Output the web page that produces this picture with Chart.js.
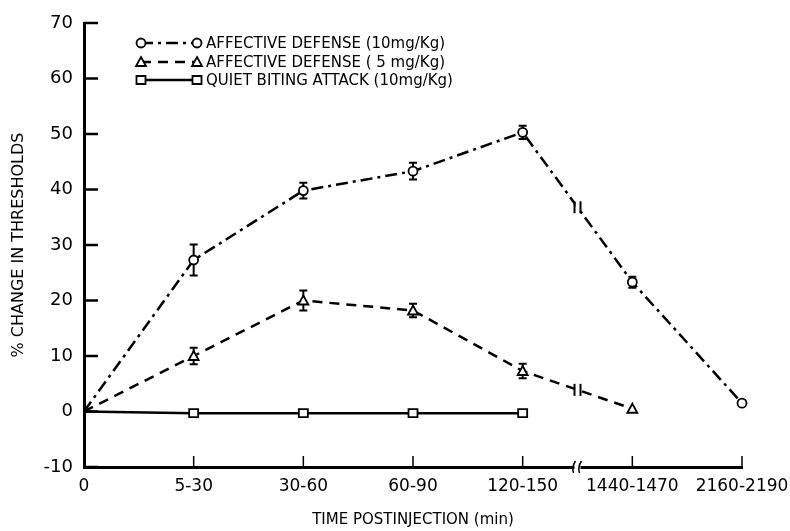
<!DOCTYPE html>
<html lang="en">

<head>
    <meta charset="UTF-8">
    <title>Change in thresholds</title>
    <script src="https://cdn.jsdelivr.net/npm/chart.js"></script>
    <style>
        * {
            margin: 0;
            padding: 0;
            box-sizing: border-box;
        }

        body {
            background-color: #ffffff;
            width: 790px;
            height: 531px;
            overflow: hidden;
        }

        #wrap {
            position: relative;
            width: 790px;
            height: 531px;
        }
    </style>
</head>

<body>
    <div id="wrap"><canvas id="thresholdChart"></canvas></div>

    <script>
        // categories on the x axis (break between 120-150 and 1440-1470)
        const categories = ['0', '5-30', '30-60', '60-90', '120-150', '1440-1470', '2160-2190'];

        // % change in thresholds
        const defense10 = [0, 27.3, 39.8, 43.3, 50.3, 23.3, 1.5];
        const defense10Err = [0, 2.8, 1.4, 1.5, 1.2, 1.0, 0];
        const defense5 = [0, 10.0, 20.0, 18.2, 7.3, 0.5, null];
        const defense5Err = [0, 1.5, 1.8, 1.2, 1.3, 0, null];
        const quietBiting = [0, -0.3, -0.3, -0.3, -0.3, null, null];

        const yTickValues = [-10, 0, 10, 20, 30, 40, 50, 60, 70];
        const breakAt = 4.5; // position of the axis break, between categories

        const labelFont = 'DejaVu Sans';

        // error bars, drawn under the markers
        const errorBars = {
            id: 'errorBars',
            beforeDatasetsDraw(chart) {
                const ctx = chart.ctx;
                const x = chart.scales.x, y = chart.scales.y;
                ctx.save();
                ctx.strokeStyle = '#000';
                ctx.lineWidth = 2;
                chart.data.datasets.forEach(ds => {
                    if (!ds.errors) return;
                    ds.data.forEach((v, i) => {
                        const e = ds.errors[i];
                        if (v === null || !e) return;
                        const px = x.getPixelForValue(i);
                        const top = y.getPixelForValue(v + e);
                        const bot = y.getPixelForValue(v - e);
                        ctx.beginPath();
                        ctx.moveTo(px, top); ctx.lineTo(px, bot);
                        ctx.moveTo(px - 4, top); ctx.lineTo(px + 4, top);
                        ctx.moveTo(px - 4, bot); ctx.lineTo(px + 4, bot);
                        ctx.stroke();
                    });
                });
                ctx.restore();
            }
        };

        function marker(ctx, style, px, py) {
            ctx.beginPath();
            if (style === 'circle') {
                ctx.arc(px, py, 4.5, 0, Math.PI * 2);
            } else if (style === 'triangle') {
                ctx.moveTo(px, py - 5);
                ctx.lineTo(px + 5, py + 4);
                ctx.lineTo(px - 5, py + 4);
                ctx.closePath();
            } else {
                ctx.rect(px - 4.5, py - 4, 9, 8);
            }
            ctx.fillStyle = '#fff';
            ctx.fill();
            ctx.setLineDash([]);
            ctx.lineWidth = 1.8;
            ctx.stroke();
        }

        // inward ticks, axis break, line breaks and the legend
        const decorations = {
            id: 'decorations',
            afterDraw(chart) {
                const ctx = chart.ctx;
                const x = chart.scales.x, y = chart.scales.y;
                const area = chart.chartArea;
                ctx.save();
                ctx.strokeStyle = '#000';

                // y ticks pointing into the plot
                ctx.lineWidth = 2.5;
                yTickValues.forEach(v => {
                    const py = y.getPixelForValue(v);
                    ctx.beginPath();
                    ctx.moveTo(area.left, py);
                    ctx.lineTo(area.left + 14, py);
                    ctx.stroke();
                });

                // x ticks pointing up
                ctx.lineWidth = 1.5;
                categories.forEach((c, i) => {
                    if (i === 0) return;
                    const px = x.getPixelForValue(i);
                    ctx.beginPath();
                    ctx.moveTo(px, area.bottom);
                    ctx.lineTo(px, area.bottom - 11);
                    ctx.stroke();
                });

                // break in the x axis
                const bx = x.getPixelForValue(breakAt);
                ctx.fillStyle = '#fff';
                ctx.fillRect(bx - 3, area.bottom - 4, 6, 8);
                ctx.lineWidth = 1.5;
                [-3, 3].forEach(d => {
                    ctx.beginPath();
                    ctx.moveTo(bx + d - 1, area.bottom + 6);
                    ctx.quadraticCurveTo(bx + d - 3, area.bottom, bx + d + 1, area.bottom - 6);
                    ctx.stroke();
                });

                // breaks on the lines that cross the gap
                [defense10, defense5].forEach(arr => {
                    const a = arr[4], b = arr[5];
                    if (a === null || b === null) return;
                    const py = y.getPixelForValue((a + b) / 2);
                    ctx.fillStyle = '#fff';
                    ctx.fillRect(bx - 2, py - 4, 4, 8);
                    ctx.lineWidth = 2;
                    [-3, 3].forEach(d => {
                        ctx.beginPath();
                        ctx.moveTo(bx + d, py - 6);
                        ctx.lineTo(bx + d, py + 6);
                        ctx.stroke();
                    });
                });

                // legend
                const rows = [43, 62, 80];
                chart.data.datasets.forEach((ds, k) => {
                    const ry = rows[k];
                    ctx.lineWidth = 2.5;
                    ctx.setLineDash(ds.borderDash || []);
                    ctx.beginPath();
                    ctx.moveTo(141, ry);
                    ctx.lineTo(197, ry);
                    ctx.stroke();
                    marker(ctx, ds.pointStyle, 141, ry);
                    marker(ctx, ds.pointStyle, 197, ry);
                    ctx.fillStyle = '#000';
                    ctx.font = '15px ' + labelFont;
                    ctx.textBaseline = 'middle';
                    ctx.textAlign = 'left';
                    ctx.fillText(ds.label, 206, ry + 1);
                });
                ctx.restore();
            }
        };

        const ctx = document.getElementById('thresholdChart').getContext('2d');

        new Chart(ctx, {
            type: 'line',
            data: {
                labels: categories,
                datasets: [
                    {
                        label: 'AFFECTIVE DEFENSE (10mg/Kg)',
                        data: defense10,
                        errors: defense10Err,
                        borderDash: [12, 5, 3, 5],
                        pointStyle: 'circle'
                    },
                    {
                        label: 'AFFECTIVE DEFENSE ( 5 mg/Kg)',
                        data: defense5,
                        errors: defense5Err,
                        borderDash: [10, 7],
                        pointStyle: 'triangle'
                    },
                    {
                        label: 'QUIET BITING ATTACK (10mg/Kg)',
                        data: quietBiting,
                        borderDash: [],
                        pointStyle: 'rect'
                    }
                ].map(ds => Object.assign({
                    borderColor: '#000',
                    borderWidth: 2.5,
                    tension: 0,
                    fill: false,
                    pointRadius: 0
                }, ds))
            },
            options: {
                responsive: true,
                maintainAspectRatio: false,
                animation: false,
                events: [],
                layout: {
                    padding: { top: 23, right: 48, left: 0, bottom: 0 }
                },
                plugins: {
                    legend: { display: false },
                    tooltip: { enabled: false }
                },
                scales: {
                    x: {
                        type: 'category',
                        offset: false,
                        grid: { display: false, drawTicks: false },
                        border: { display: true, width: 3, color: '#000' },
                        ticks: {
                            color: '#000',
                            padding: 9,
                            maxRotation: 0,
                            autoSkip: false,
                            font: { family: labelFont, size: 17 }
                        },
                        title: {
                            display: true,
                            text: 'TIME POSTINJECTION (min)',
                            color: '#000',
                            font: { family: labelFont, size: 15 },
                            padding: { top: 0, bottom: 2 }
                        },
                        afterFit(scale) {
                            scale.height = 64;
                            scale.paddingLeft = 0;
                            scale.paddingRight = 0;
                        }
                    },
                    y: {
                        min: -10,
                        max: 70,
                        grid: { display: false, drawTicks: false },
                        border: { display: true, width: 3, color: '#000' },
                        ticks: {
                            stepSize: 10,
                            color: '#000',
                            padding: 11,
                            font: { family: labelFont, size: 18 }
                        },
                        title: {
                            display: true,
                            text: '% CHANGE IN THRESHOLDS',
                            color: '#000',
                            font: { family: labelFont, size: 16 },
                            padding: { top: 9, bottom: 0 }
                        },
                        afterFit(scale) { scale.width = 84; }
                    }
                }
            },
            plugins: [errorBars, decorations, {
                // markers on top of lines and error bars
                id: 'markers',
                afterDatasetsDraw(chart) {
                    const c = chart.ctx;
                    const x = chart.scales.x, y = chart.scales.y;
                    c.save();
                    c.strokeStyle = '#000';
                    chart.data.datasets.forEach(ds => {
                        ds.data.forEach((v, i) => {
                            if (v === null || i === 0) return;
                            marker(c, ds.pointStyle, x.getPixelForValue(i), y.getPixelForValue(v));
                        });
                    });
                    c.restore();
                }
            }]
        });
    </script>
</body>

</html>
